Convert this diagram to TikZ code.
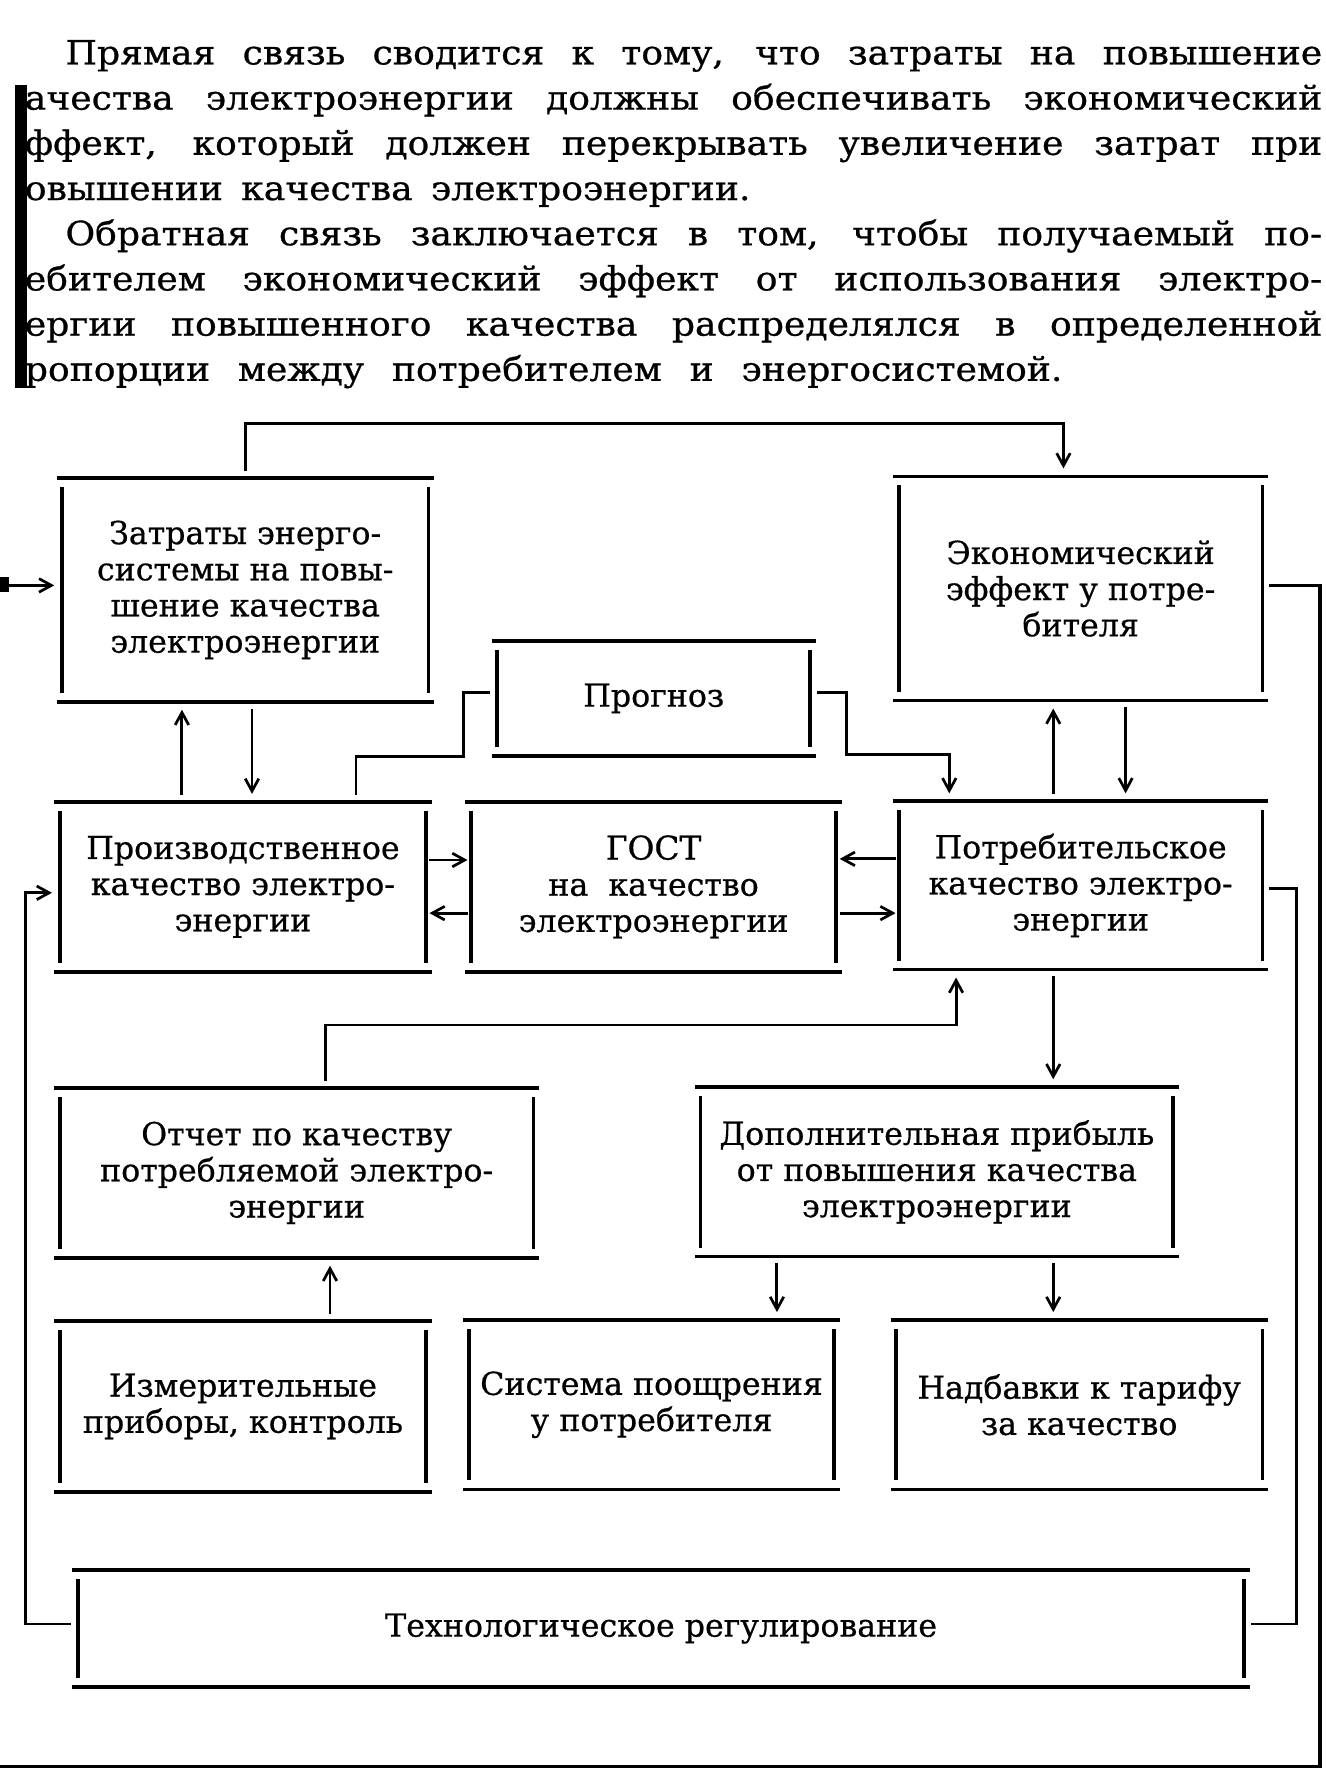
\documentclass[tikz,border=0pt]{standalone}
\usepackage{fontspec}
\setmainfont{DejaVu Serif}[FakeBold=0.6]
\newfontfamily\parafont{DejaVu Serif}[FakeStretch=1.08,FakeBold=0.7]
\usetikzlibrary{arrows.meta}
\newcommand\bxfont{\fontsize{14pt}{16pt}\selectfont}
\newcommand\pfont{\parafont\fontsize{14.8pt}{20pt}\selectfont}
\tikzset{
  boxnode/.style={draw=none, inner sep=0pt, outer sep=0pt, align=center, font=\bxfont},
  para/.style={inner sep=0pt, outer sep=0pt, anchor=base west, font=\pfont},
  hline/.style={line width=1.6pt},
  vline/.style={line width=1.6pt},
  conn/.style={line width=1.3pt, shorten <=3pt, shorten >=3pt},
  arr/.style={conn, shorten >=3.5pt, -{Straight Barb[length=5.5pt,width=6pt,line width=1.2pt]}},
}
\newcommand\diafrm[1]{%
  \draw[hline] ([xshift=-2.5pt]#1.north west) -- ([xshift=2.5pt]#1.north east);
  \draw[hline] ([xshift=-2.5pt]#1.south west) -- ([xshift=2.5pt]#1.south east);
  \draw[vline] ([yshift=-4pt]#1.north west) -- ([yshift=4pt]#1.south west);
  \draw[vline] ([yshift=-4pt]#1.north east) -- ([yshift=4pt]#1.south east);}
\newcommand\diabox[6]{%
  \node[boxnode, minimum width={(#4-#2)*0.5pt}, minimum height={(#5-#3)*0.5pt}] (#1) at ({(#2+#4)/2},{(#3+#5)/2}) {#6};
  \diafrm{#1}}
\begin{document}
\begin{tikzpicture}[x=0.5pt,y=-0.5pt]
\useasboundingbox (0,0) rectangle (1173,1568);
\clip (0,0) rectangle (1173,1568);
% paragraph
\node[para] (p1) at (58,57) {\makebox[556pt][s]{Прямая связь сводится к тому, что затраты на повышение}};
\node[para] (p2) at (22,97) {\makebox[574pt][s]{ачества электроэнергии должны обеспечивать экономический}};
\node[para] (p3) at (22,137) {\makebox[574pt][s]{ффект, который должен перекрывать увеличение затрат при}};
\node[para] (p4) at (22,177) {\makebox[321pt][s]{овышении качества электроэнергии.}};
\node[para] (p5) at (58,217) {\makebox[556pt][s]{Обратная связь заключается в том, чтобы получаемый по-}};
\node[para] (p6) at (22,257) {\makebox[574pt][s]{ебителем экономический эффект от использования электро-}};
\node[para] (p7) at (22,297) {\makebox[574pt][s]{ергии повышенного качества распределялся в определенной}};
\node[para] (p8) at (22,337) {\makebox[459pt][s]{ропорции между потребителем и энергосистемой.}};
\fill (13,75) rectangle (24,343);
% boxes
\diabox{Z}{55}{423}{379}{621}{Затраты энерго-\\системы на повы-\\шение качества\\электроэнергии}
\diabox{E}{795.5}{421.5}{1117}{620}{Экономический\\эффект у потре-\\бителя}
\diabox{P}{440}{567}{717}{669}{Прогноз}
\diabox{PQ}{53}{709.5}{377}{860}{Производственное\\качество электро-\\энергии}
\diabox{G}{416.7}{709.5}{740}{860}{{\fontsize{14.5pt}{16pt}\selectfont ГОСТ}\\на \ качество\\электроэнергии}
\diabox{CQ}{795.5}{709}{1117}{858}{Потребительское\\качество электро-\\энергии}
\diabox{R}{53}{962.7}{472}{1113}{Отчет по качеству\\потребляемой электро-\\энергии}
\diabox{D}{620}{962}{1038}{1112}{Дополнительная прибыль\\от повышения качества\\электроэнергии}
\diabox{M}{53}{1169}{377}{1320}{Измерительные\\приборы, контроль}
\diabox{S}{415}{1168}{738}{1318}{Система поощрения\\у потребителя}
\diabox{N}{793}{1168}{1117}{1318}{Надбавки к тарифу\\за качество}
\diabox{T}{69}{1389.5}{1101}{1492.7}{Технологическое регулирование}
% coordinates
\coordinate (tl) at (218,375); \coordinate (tr) at (941,375);
\coordinate (xa) at (161,0); \coordinate (xb) at (223,0);
\coordinate (pa) at (315,669); \coordinate (pb) at (410,669); \coordinate (pc) at (410,613);
\coordinate (qa) at (749,613); \coordinate (qb) at (749,668); \coordinate (qc) at (840,668);
\coordinate (ya) at (0,761); \coordinate (yb) at (0,808); \coordinate (yc) at (0,760);
\coordinate (xc) at (932,0); \coordinate (xd) at (996,0);
\coordinate (o1) at (1168,518); \coordinate (o2) at (1168,1563); \coordinate (o3) at (-4,1563); \coordinate (o4) at (-4,518);
\coordinate (r1) at (1147,786); \coordinate (r2) at (1147,1437);
\coordinate (lc1) at (22.4,1437); \coordinate (lc2) at (22.4,790);
\coordinate (s1) at (288,907); \coordinate (s2) at (846,907);
\coordinate (xf) at (292,0); \coordinate (xg) at (687.5,0);
% connectors
\draw[arr] (Z.north) -- (Z.north |- tl) -- (tr) -- (tr |- E.north);
\draw[arr] (PQ.north -| xa) -- (Z.south -| xa);
\draw[arr] (Z.south -| xb) -- (PQ.north -| xb);
\draw[conn] (PQ.north -| pa) -- (pa) -- (pb) -- (pc) -- (pc -| P.west);
\draw[arr] (qa -| P.east) -- (qa) -- (qb) -- (qc) -- (qc |- CQ.north);
\draw[arr, shorten <=1.5pt, shorten >=1.5pt] (PQ.east |- ya) -- (G.west |- ya);
\draw[arr, shorten <=1.5pt, shorten >=1.5pt] (G.west |- yb) -- (PQ.east |- yb);
\draw[arr, shorten <=1.5pt, shorten >=1.5pt] (CQ.west |- yc) -- (G.east |- yc);
\draw[arr, shorten <=1.5pt, shorten >=1.5pt] (G.east |- yb) -- (CQ.west |- yb);
\draw[arr] (CQ.north -| xc) -- (E.south -| xc);
\draw[arr] (E.south -| xd) -- (CQ.north -| xd);
\draw[arr, line width=1.6pt] (E.east |- o1) -- (o1) -- (o2) -- (o3) -- (o4) -- (Z.west |- o4);
\fill (0,511) rectangle (8,524);
\draw[conn] (CQ.east |- r1) -- (r1) -- (r2) -- (T.east |- r2);
\draw[arr] (T.west |- lc1) -- (lc1) -- (lc2) -- (PQ.west |- lc2);
\draw[arr] (R.north -| s1) -- (s1) -- (s2) -- (CQ.south -| s2);
\draw[arr] (CQ.south -| xc) -- (D.north -| xc);
\draw[arr] (M.north -| xf) -- (R.south -| xf);
\draw[arr] (D.south -| xg) -- (S.north -| xg);
\draw[arr] (D.south -| xc) -- (N.north -| xc);
\end{tikzpicture}
\end{document}
